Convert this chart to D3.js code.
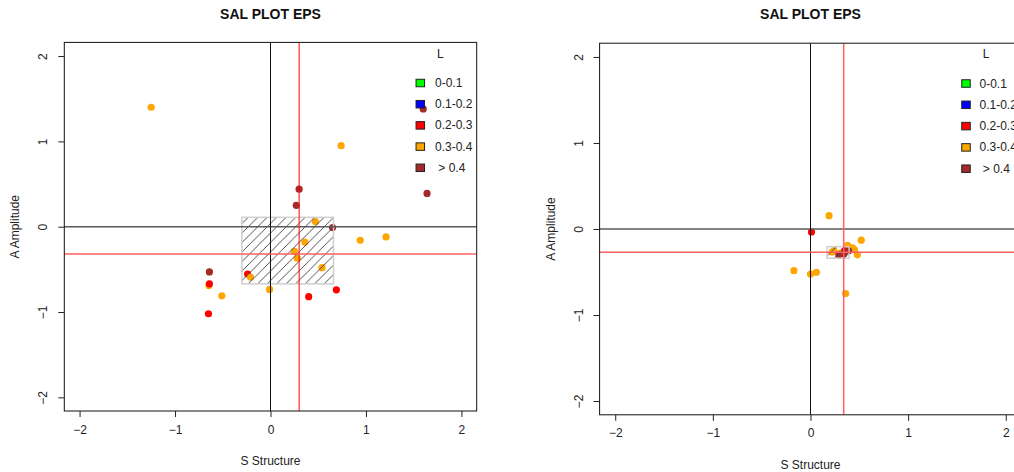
<!DOCTYPE html>
<html>
<head>
<meta charset="utf-8">
<script src="https://cdn.jsdelivr.net/npm/d3@7"></script>
<style>
  html, body { margin: 0; padding: 0; background: #fff; }
  svg { display: block; font-family: "Liberation Sans", Arial, sans-serif; }
  text { white-space: pre; }
</style>
</head>
<body>
<svg id="chart" width="1014" height="472"></svg>
<script>
// Axis ticks and labels
const xTickValues = [-2, -1, 0, 1, 2];
const yTickValues = [-2, -1, 0, 1, 2];
const plotTitle = "SAL PLOT EPS";
const xTitle = "S Structure";
const yTitle = "A Amplitude";
const legendTitle = "L";
const legendLabels = ["0-0.1", "0.1-0.2", "0.2-0.3", "0.3-0.4", " > 0.4"];

// Left panel: S, A and L class (0..4) of each object
const leftS = [-1.25, 0.74, 1.64, 0.30, 0.27, 0.47, 0.65, 0.94, 1.21, 0.36, 0.25, 0.28, 0.54, -0.64,
               -0.24, -0.21, -0.645, -0.64, -0.51, -0.01, 0.40, 0.69, -0.65, 1.60];
const leftA = [1.40, 0.95, 0.39, 0.44, 0.25, 0.06, -0.01, -0.16, -0.12, -0.18, -0.29, -0.37, -0.48, -0.53,
               -0.555, -0.59, -0.69, -0.67, -0.81, -0.735, -0.82, -0.74, -1.02, 1.38];
const leftL = [3, 3, 4, 4, 4, 3, 4, 3, 3, 3, 3, 3, 3, 4,
               2, 3, 3, 2, 3, 3, 2, 2, 2, 4];
const leftMedian = [0.30, -0.32];
const leftQuartS = [-0.30, 0.66];
const leftQuartA = [-0.67, 0.11];

// Right panel
const rightS = [0.19, 0.01, 0.52, -0.17, 0.00, 0.06, 0.36, 0.38, 0.43, 0.45, 0.48, 0.22, 0.24, 0.31,
                0.35, 0.39, 0.34, 0.29];
const rightA = [0.155, -0.035, -0.13, -0.485, -0.523, -0.503, -0.75, -0.19, -0.22, -0.24, -0.30, -0.27, -0.25, -0.28,
                -0.25, -0.255, -0.29, -0.30];
const rightL = [3, 2, 3, 3, 3, 3, 3, 3, 3, 3, 3, 3, 3, 3,
                2, 4, 4, 4];
const rightMedian = [0.34, -0.27];
const rightQuartS = [0.17, 0.395];
const rightQuartA = [-0.34, -0.205];

const classColors = ["#00ff00", "#0000ff", "#ff0000", "#ffa500", "#a52a2a"];

const svg = d3.select("#chart");

// shared hatch fill for the interquartile box
const defs = svg.append("defs");
const hatch = defs.append("pattern")
  .attr("id", "hatch")
  .attr("patternUnits", "userSpaceOnUse")
  .attr("width", 9.5).attr("height", 9.5);
hatch.append("path")
  .attr("d", "M0,9.5 L9.5,0 M-2,2 L2,-2 M7.5,11.5 L11.5,7.5")
  .attr("stroke", "#3a3a3a").attr("stroke-width", 0.9).attr("fill", "none");

function drawPanel(p, S, A, L, median, quartS, quartA) {
  const x = d3.scaleLinear().domain([-2.16, 2.16]).range([p.left, p.right]);
  const y = d3.scaleLinear().domain([-2.16, 2.16]).range([p.bottom, p.top]);
  const g = svg.append("g");

  const clipId = "clip" + p.id;
  defs.append("clipPath").attr("id", clipId)
    .append("rect")
    .attr("x", p.left).attr("y", p.top)
    .attr("width", p.right - p.left).attr("height", p.bottom - p.top);

  const inner = g.append("g").attr("clip-path", `url(#${clipId})`);

  // points
  inner.selectAll("circle.pt")
    .data(S.map((s, i) => ({ s, a: A[i], l: L[i] })))
    .join("circle")
    .attr("class", "pt")
    .attr("cx", d => x(d.s))
    .attr("cy", d => y(d.a))
    .attr("r", 3.6)
    .attr("fill", d => classColors[d.l]);

  // interquartile box
  inner.append("rect")
    .attr("x", x(quartS[0])).attr("y", y(quartA[1]))
    .attr("width", x(quartS[1]) - x(quartS[0]))
    .attr("height", y(quartA[0]) - y(quartA[1]))
    .attr("fill", "url(#hatch)")
    .attr("stroke", "#cfcfcf").attr("stroke-width", 1.5);

  // zero lines
  inner.append("line")
    .attr("x1", p.left).attr("x2", p.right)
    .attr("y1", y(0)).attr("y2", y(0))
    .attr("stroke", "#5a5a5a").attr("stroke-width", 1.6);
  inner.append("line")
    .attr("x1", x(0)).attr("x2", x(0))
    .attr("y1", p.top).attr("y2", p.bottom)
    .attr("stroke", "#111").attr("stroke-width", 1);

  // median lines
  inner.append("line")
    .attr("x1", x(median[0])).attr("x2", x(median[0]))
    .attr("y1", p.top).attr("y2", p.bottom)
    .attr("stroke", p.vRed).attr("stroke-width", p.vRedW);
  inner.append("line")
    .attr("x1", p.left).attr("x2", p.right)
    .attr("y1", y(median[1])).attr("y2", y(median[1]))
    .attr("stroke", "#ff6060").attr("stroke-width", 1.5);

  // frame
  g.append("rect")
    .attr("x", p.left).attr("y", p.top)
    .attr("width", p.right - p.left).attr("height", p.bottom - p.top)
    .attr("fill", "none").attr("stroke", "#111").attr("stroke-width", 1);

  // axes
  const xAxis = g.append("g")
    .attr("transform", `translate(0,${p.bottom})`)
    .call(d3.axisBottom(x).tickValues(xTickValues).tickSize(6).tickPadding(8).tickFormat(d3.format("d")));
  xAxis.select(".domain").remove();
  xAxis.selectAll("line").attr("stroke", "#222");
  xAxis.selectAll("text").attr("font-size", 12).style("fill", "#222")
    .attr("font-family", "Liberation Sans, Arial, sans-serif");

  const yAxis = g.append("g")
    .attr("transform", `translate(${p.left},0)`)
    .call(d3.axisLeft(y).tickValues(yTickValues).tickSize(6).tickFormat(d3.format("d")));
  yAxis.select(".domain").remove();
  yAxis.selectAll("line").attr("stroke", "#222");
  yAxis.selectAll("text")
    .attr("font-size", 12).style("fill", "#222")
    .attr("font-family", "Liberation Sans, Arial, sans-serif")
    .attr("x", null).attr("dy", null)
    .attr("text-anchor", "middle")
    .attr("transform", "translate(-21,0) rotate(-90)")
    .attr("dominant-baseline", "central");

  // titles
  g.append("text")
    .attr("x", (p.left + p.right) / 2).attr("y", 19)
    .attr("text-anchor", "middle")
    .attr("font-size", 14).attr("font-weight", "bold").style("fill", "#111")
    .text(plotTitle);
  g.append("text")
    .attr("x", (p.left + p.right) / 2).attr("y", p.bottom + 54)
    .attr("text-anchor", "middle")
    .attr("font-size", 12).style("fill", "#222")
    .text(xTitle);
  g.append("text")
    .attr("transform", `translate(${p.left - 49},${(p.top + p.bottom) / 2}) rotate(-90)`)
    .attr("text-anchor", "middle")
    .attr("dominant-baseline", "central")
    .attr("font-size", 12).style("fill", "#222")
    .text(yTitle);

  // legend
  const lg = g.append("g");
  lg.append("text")
    .attr("x", p.legX + 20).attr("y", p.legY - 29.5)
    .attr("text-anchor", "middle").attr("dominant-baseline", "central")
    .attr("font-size", 12).style("fill", "#222")
    .text(legendTitle);
  const rows = lg.selectAll("g.row").data(legendLabels).join("g")
    .attr("class", "row")
    .attr("transform", (d, i) => `translate(${p.legX},${p.legY + i * p.legStep})`);
  rows.append("rect")
    .attr("x", -4.25).attr("y", -3.75).attr("width", 8.5).attr("height", 7.5)
    .attr("fill", (d, i) => classColors[i])
    .attr("stroke", "#222").attr("stroke-width", 1);
  rows.append("text")
    .attr("x", p.legText).attr("y", 0)
    .attr("dominant-baseline", "central")
    .attr("font-size", 12).style("fill", "#222")
    .text(d => d);
}

drawPanel({ id: "L", left: 64.3, right: 476.7, top: 42.4, bottom: 411,
            legX: 420.3, legY: 83, legStep: 21.2, legText: 14.7,
            vRed: "#ff0000", vRedW: 1 },
          leftS, leftA, leftL, leftMedian, leftQuartS, leftQuartA);
drawPanel({ id: "R", left: 599.6, right: 1021.4, top: 43.2, bottom: 414.8,
            legX: 966, legY: 83.5, legStep: 21.3, legText: 13.5,
            vRed: "#ff6060", vRedW: 1.5 },
          rightS, rightA, rightL, rightMedian, rightQuartS, rightQuartA);
</script>
</body>
</html>
